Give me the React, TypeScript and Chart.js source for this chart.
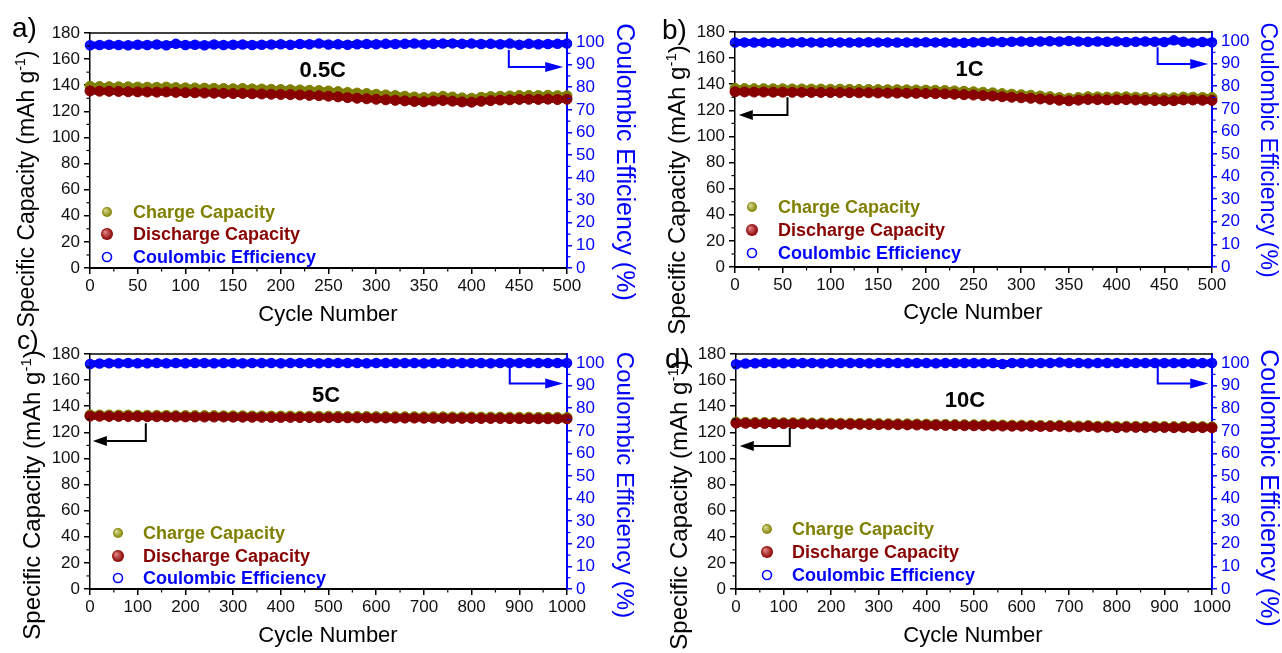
import React, { useEffect, useRef } from "react";
import { Chart, registerables } from "chart.js";

Chart.register(...registerables);

const FONT = '"Liberation Sans", Arial, Helvetica, sans-serif';
const W = 1282;
const H = 653;

// ---------------- data ----------------
const cycles500 = [0, 10, 20, 30, 40, 50, 60, 70, 80, 90, 100, 110, 120, 130, 140, 150, 160, 170, 180, 190, 200, 210, 220, 230, 240, 250, 260, 270, 280, 290, 300, 310, 320, 330, 340, 350, 360, 370, 380, 390, 400, 410, 420, 430, 440, 450, 460, 470, 480, 490, 500];
const cycles1000 = [0, 20, 40, 60, 80, 100, 120, 140, 160, 180, 200, 220, 240, 260, 280, 300, 320, 340, 360, 380, 400, 420, 440, 460, 480, 500, 520, 540, 560, 580, 600, 620, 640, 660, 680, 700, 720, 740, 760, 780, 800, 820, 840, 860, 880, 900, 920, 940, 960, 980, 1000];

// a) 0.5C
const chargeA = [139.2, 139.0, 138.9, 138.8, 138.8, 138.6, 138.5, 138.4, 138.6, 138.2, 138.0, 137.9, 137.8, 137.6, 137.5, 137.3, 137.5, 137.2, 137.1, 136.9, 136.7, 136.6, 136.4, 136.1, 135.9, 135.6, 135.1, 134.5, 134.0, 133.6, 133.1, 132.6, 132.1, 131.6, 131.0, 130.6, 131.0, 131.5, 131.0, 130.3, 130.0, 130.8, 131.3, 131.6, 131.8, 132.1, 132.2, 132.1, 132.3, 132.0, 131.9];
const dischargeA = [135.6, 135.4, 135.3, 135.2, 135.0, 134.9, 134.8, 134.7, 134.8, 134.5, 134.3, 134.2, 134.0, 133.9, 133.8, 133.6, 133.7, 133.4, 133.3, 133.1, 132.9, 132.8, 132.5, 132.2, 132.0, 131.6, 131.1, 130.5, 130.0, 129.6, 129.2, 128.8, 128.4, 128.0, 127.5, 127.3, 127.9, 128.3, 127.8, 127.2, 127.0, 127.7, 128.2, 128.6, 128.8, 129.1, 129.2, 129.1, 129.3, 129.0, 129.2];
const ceA = [98.6, 98.7, 98.8, 98.7, 98.6, 98.8, 98.7, 98.9, 98.6, 99.2, 98.7, 98.8, 98.6, 98.9, 98.7, 98.8, 98.9, 98.7, 98.8, 98.9, 99.0, 98.8, 99.1, 99.0, 99.3, 98.9, 99.0, 98.8, 99.0, 99.1, 99.0, 99.2, 99.1, 99.2, 99.3, 99.0, 99.2, 99.3, 99.4, 99.2, 99.3, 99.1, 99.2, 99.0, 99.3, 98.8, 99.2, 99.0, 99.1, 99.2, 99.3];

// b) 1C
const chargeB = [136.8, 136.7, 136.6, 136.6, 136.5, 136.5, 136.4, 136.4, 136.3, 136.3, 136.2, 136.2, 136.1, 136.0, 136.0, 135.9, 135.8, 135.8, 135.7, 135.6, 135.5, 135.4, 135.2, 134.9, 134.6, 134.2, 133.8, 133.4, 132.8, 132.4, 132.0, 131.6, 131.0, 130.5, 129.8, 129.3, 129.8, 130.4, 130.3, 130.1, 130.3, 130.4, 130.1, 129.9, 129.7, 129.5, 129.6, 130.2, 130.1, 129.9, 129.8];
const dischargeB = [134.2, 134.1, 134.0, 134.0, 133.9, 133.9, 133.8, 133.8, 133.7, 133.7, 133.6, 133.6, 133.5, 133.4, 133.4, 133.3, 133.2, 133.2, 133.1, 133.0, 132.9, 132.8, 132.6, 132.3, 132.0, 131.7, 131.3, 130.9, 130.4, 130.0, 129.6, 129.2, 128.7, 128.3, 127.7, 127.3, 127.8, 128.3, 128.2, 128.0, 128.1, 128.2, 127.9, 127.7, 127.5, 127.3, 127.4, 128.0, 127.9, 127.7, 127.6];
const ceB = [99.3, 99.4, 99.3, 99.4, 99.4, 99.3, 99.4, 99.5, 99.4, 99.3, 99.4, 99.4, 99.3, 99.4, 99.5, 99.4, 99.4, 99.3, 99.4, 99.4, 99.5, 99.4, 99.4, 99.3, 99.2, 99.5, 99.6, 99.7, 99.6, 99.7, 99.8, 99.7, 99.8, 99.9, 99.8, 100.0, 99.8, 99.7, 99.8, 99.7, 99.8, 99.6, 99.7, 99.8, 99.7, 99.6, 100.3, 99.7, 99.4, 99.6, 99.5];

// c) 5C
const chargeC = [133.4, 133.3, 133.3, 133.2, 133.2, 133.1, 133.1, 133.0, 133.0, 132.9, 132.9, 132.9, 132.8, 132.8, 132.7, 132.7, 132.7, 132.6, 132.6, 132.5, 132.5, 132.5, 132.4, 132.4, 132.3, 132.3, 132.3, 132.2, 132.2, 132.2, 132.1, 132.1, 132.0, 132.0, 132.0, 131.9, 131.9, 131.9, 131.8, 131.8, 131.8, 131.7, 131.7, 131.7, 131.6, 131.6, 131.6, 131.5, 131.5, 131.5, 131.4];
const dischargeC = [132.4, 132.3, 132.2, 132.2, 132.1, 132.1, 132.0, 132.0, 131.9, 131.9, 131.8, 131.8, 131.7, 131.7, 131.7, 131.6, 131.6, 131.5, 131.5, 131.4, 131.4, 131.4, 131.3, 131.3, 131.2, 131.2, 131.2, 131.1, 131.1, 131.1, 131.0, 131.0, 130.9, 130.9, 130.9, 130.8, 130.8, 130.8, 130.7, 130.7, 130.7, 130.6, 130.6, 130.6, 130.5, 130.5, 130.5, 130.4, 130.4, 130.4, 130.3];
const ceC = [99.6, 99.8, 99.9, 99.9, 100.0, 99.9, 99.9, 100.0, 99.9, 100.0, 99.9, 100.0, 100.0, 99.9, 100.0, 100.0, 99.9, 100.0, 100.0, 100.0, 99.9, 100.0, 100.0, 100.0, 99.9, 100.0, 100.0, 100.0, 100.0, 99.9, 100.0, 100.0, 100.0, 100.0, 100.0, 99.9, 100.0, 100.0, 100.0, 100.0, 100.0, 100.0, 99.9, 100.0, 100.0, 100.0, 100.0, 100.0, 100.0, 100.0, 100.0];

// d) 10C
const chargeD = [127.8, 127.7, 127.6, 127.6, 127.5, 127.4, 127.4, 127.3, 127.2, 127.2, 127.1, 127.0, 127.0, 126.9, 126.8, 126.7, 126.6, 126.6, 126.5, 126.4, 126.3, 126.2, 126.1, 126.0, 125.9, 125.8, 125.8, 125.7, 125.6, 125.5, 125.5, 125.4, 125.3, 125.2, 125.4, 125.1, 124.9, 125.2, 124.7, 124.9, 124.5, 124.7, 124.6, 124.5, 124.6, 124.5, 124.4, 124.5, 124.4, 124.4, 124.3];
const dischargeD = [127.0, 126.9, 126.8, 126.8, 126.7, 126.6, 126.6, 126.5, 126.4, 126.4, 126.3, 126.2, 126.2, 126.1, 126.0, 125.9, 125.8, 125.8, 125.7, 125.6, 125.5, 125.4, 125.3, 125.2, 125.1, 125.0, 125.0, 124.9, 124.8, 124.7, 124.7, 124.6, 124.5, 124.4, 124.6, 124.2, 124.0, 124.4, 123.8, 124.1, 123.6, 123.9, 123.8, 123.7, 123.8, 123.7, 123.6, 123.7, 123.6, 123.6, 123.5];
const ceD = [99.5, 99.8, 99.9, 100.0, 100.0, 99.9, 100.0, 100.0, 100.0, 99.9, 100.0, 100.0, 100.0, 100.0, 99.9, 100.0, 100.0, 100.0, 100.0, 100.0, 100.0, 99.9, 100.0, 100.0, 100.0, 100.0, 100.0, 100.0, 99.6, 100.0, 100.0, 100.0, 100.0, 100.0, 100.2, 100.0, 100.0, 99.9, 100.0, 100.0, 100.0, 100.0, 100.0, 100.0, 100.0, 100.0, 100.0, 100.0, 100.0, 100.0, 100.0];

// tick labels
const capTicks = [0, 20, 40, 60, 80, 100, 120, 140, 160, 180];
const ceTicks = [0, 10, 20, 30, 40, 50, 60, 70, 80, 90, 100];
const xTicks500 = [0, 50, 100, 150, 200, 250, 300, 350, 400, 450, 500];
const xTicks1000 = [0, 100, 200, 300, 400, 500, 600, 700, 800, 900, 1000];

const seriesNames = ["Charge Capacity", "Discharge Capacity", "Coulombic Efficiency"];
const rateLabels = ["0.5C", "1C", "5C", "10C"];
const panelLetters = ["a)", "b)", "c)", "d)"];
const yTitleMain = "Specific Capacity (mAh g";
const yTitleSup = "-1";
const rightTitle = "Coulombic Efficiency (%)";
const xTitle = "Cycle Number";

// colors
const OLIVE = "#808000";
const DARKRED = "#880000";
const BLUE = "#0000ff";
const BLACK = "#000000";

// ---------------- layout ----------------
type Arrow = { x: number; y1: number; y2: number; xEnd: number };
type Panel = {
  area: { l: number; t: number; r: number; b: number };
  cycles: number[];
  charge: number[];
  discharge: number[];
  ce: number[];
  xMax: number;
  xTicks: number[];
  rate: string;
  rateAt: [number, number];
  letter: string;
  letterAt: [number, number, number];
  yTitleAt: [number, number, number];
  rTitleAt: [number, number, number];
  xTitleAt: [number, number, number];
  legend: { mx: number; tx: number; rows: number[] };
  blackArrow?: Arrow;
  blueArrow: Arrow;
};

const panels: Panel[] = [
  {
    area: { l: 90, t: 33, r: 567, b: 268 },
    cycles: cycles500, charge: chargeA, discharge: dischargeA, ce: ceA,
    xMax: 500, xTicks: xTicks500,
    rate: rateLabels[0], rateAt: [244, 151],
    letter: panelLetters[0], letterAt: [12, 29, 28],
    yTitleAt: [26, 189, 23], rTitleAt: [624, 162, 25], xTitleAt: [328, 315, 22],
    legend: { mx: 17, tx: 43, rows: [-56, -34, -11] },
    blueArrow: { x: 439, y1: 96.5, y2: 89, xEnd: 496 },
  },
  {
    area: { l: 735, t: 32, r: 1212, b: 267 },
    cycles: cycles500, charge: chargeB, discharge: dischargeB, ce: ceB,
    xMax: 500, xTicks: xTicks500,
    rate: rateLabels[1], rateAt: [246, 151],
    letter: panelLetters[1], letterAt: [662, 31, 28],
    yTitleAt: [677, 190, 24], rTitleAt: [1267, 150, 23], xTitleAt: [973, 313, 22],
    legend: { mx: 17, tx: 43, rows: [-60, -37, -14] },
    blackArrow: { x: 55, y1: 130, y2: 116.5, xEnd: 4 },
    blueArrow: { x: 443, y1: 97.3, y2: 89.8, xEnd: 496 },
  },
  {
    area: { l: 90, t: 354, r: 567, b: 589 },
    cycles: cycles1000, charge: chargeC, discharge: dischargeC, ce: ceC,
    xMax: 1000, xTicks: xTicks1000,
    rate: rateLabels[2], rateAt: [495, 148],
    letter: panelLetters[2], letterAt: [17, 342, 26],
    yTitleAt: [32, 495, 24], rTitleAt: [624, 485, 24], xTitleAt: [328, 636, 22],
    legend: { mx: 28, tx: 53, rows: [-56, -33, -11] },
    blackArrow: { x: 117, y1: 127, y2: 113.3, xEnd: 6 },
    blueArrow: { x: 880, y1: 99, y2: 91, xEnd: 992 },
  },
  {
    area: { l: 736, t: 354, r: 1212, b: 589 },
    cycles: cycles1000, charge: chargeD, discharge: dischargeD, ce: ceD,
    xMax: 1000, xTicks: xTicks1000,
    rate: rateLabels[3], rateAt: [481, 144],
    letter: panelLetters[3], letterAt: [665, 360, 28],
    yTitleAt: [679, 505, 24], rTitleAt: [1268, 488, 25], xTitleAt: [973, 636, 22],
    legend: { mx: 31, tx: 56, rows: [-60, -37, -14] },
    blackArrow: { x: 113, y1: 123.3, y2: 109.5, xEnd: 8 },
    blueArrow: { x: 886, y1: 99, y2: 91, xEnd: 992 },
  },
];

const LEFT_W = 60;
const RIGHT_W = 60;
const X_H = 50;

// ---------------- drawing helpers ----------------
function drawArrow(ctx: CanvasRenderingContext2D, x0: number, y0: number, y1: number, xEnd: number, color: string, head: number) {
  const dir = Math.sign(xEnd - x0) || 1;
  ctx.save();
  ctx.strokeStyle = color;
  ctx.fillStyle = color;
  ctx.lineWidth = 2;
  ctx.beginPath();
  ctx.moveTo(x0, y0);
  ctx.lineTo(x0, y1);
  ctx.lineTo(xEnd - dir * head, y1);
  ctx.stroke();
  ctx.beginPath();
  ctx.moveTo(xEnd, y1);
  ctx.lineTo(xEnd - dir * head, y1 - 5);
  ctx.lineTo(xEnd - dir * head, y1 + 5);
  ctx.closePath();
  ctx.fill();
  ctx.restore();
}

function ball(ctx: CanvasRenderingContext2D, x: number, y: number, r: number, base: string, light: string) {
  const g = ctx.createRadialGradient(x - r * 0.35, y - r * 0.35, r * 0.1, x, y, r);
  g.addColorStop(0, light);
  g.addColorStop(1, base);
  ctx.fillStyle = g;
  ctx.beginPath();
  ctx.arc(x, y, r, 0, Math.PI * 2);
  ctx.fill();
}

function makeOverlay(p: Panel) {
  return {
    id: "overlay",
    afterDraw(chart: any) {
      const ctx: CanvasRenderingContext2D = chart.ctx;
      const a = chart.chartArea;
      const xs = chart.scales.x;
      const ys = chart.scales.y;
      const y2 = chart.scales.y2;
      ctx.save();

      // top frame
      ctx.strokeStyle = BLACK;
      ctx.lineWidth = 1.5;
      ctx.beginPath();
      ctx.moveTo(a.left, a.top);
      ctx.lineTo(a.right, a.top);
      ctx.stroke();

      // minor ticks
      ctx.lineWidth = 1.2;
      ctx.strokeStyle = BLACK;
      for (let i = 0; i < capTicks.length - 1; i++) {
        const py = ys.getPixelForValue((capTicks[i] + capTicks[i + 1]) / 2);
        ctx.beginPath();
        ctx.moveTo(a.left - 3.5, py);
        ctx.lineTo(a.left, py);
        ctx.stroke();
      }
      for (let i = 0; i < p.xTicks.length - 1; i++) {
        const px = xs.getPixelForValue((p.xTicks[i] + p.xTicks[i + 1]) / 2);
        ctx.beginPath();
        ctx.moveTo(px, a.bottom);
        ctx.lineTo(px, a.bottom + 3.5);
        ctx.stroke();
      }
      ctx.strokeStyle = BLUE;
      for (let i = 0; i < ceTicks.length - 1; i++) {
        const py = y2.getPixelForValue((ceTicks[i] + ceTicks[i + 1]) / 2);
        ctx.beginPath();
        ctx.moveTo(a.right, py);
        ctx.lineTo(a.right + 3.5, py);
        ctx.stroke();
      }

      // arrows
      if (p.blackArrow) {
        const b = p.blackArrow;
        drawArrow(ctx, xs.getPixelForValue(b.x), ys.getPixelForValue(b.y1), ys.getPixelForValue(b.y2), xs.getPixelForValue(b.xEnd), BLACK, 14);
      }
      {
        const b = p.blueArrow;
        drawArrow(ctx, xs.getPixelForValue(b.x), y2.getPixelForValue(b.y1), y2.getPixelForValue(b.y2), xs.getPixelForValue(b.xEnd), BLUE, 18);
      }

      // rate label
      ctx.fillStyle = BLACK;
      ctx.font = `bold 22px ${FONT}`;
      ctx.textAlign = "center";
      ctx.textBaseline = "middle";
      ctx.fillText(p.rate, xs.getPixelForValue(p.rateAt[0]), ys.getPixelForValue(p.rateAt[1]));

      // legend
      const lg = p.legend;
      const colors = [OLIVE, DARKRED, BLUE];
      ctx.font = `bold 18px ${FONT}`;
      ctx.textAlign = "left";
      ctx.textBaseline = "middle";
      for (let i = 0; i < 3; i++) {
        const yy = a.bottom + lg.rows[i];
        const mx = a.left + lg.mx;
        if (i === 0) ball(ctx, mx, yy, 5, OLIVE, "#d8d890");
        else if (i === 1) ball(ctx, mx, yy, 6, DARKRED, "#e08080");
        else {
          ctx.strokeStyle = BLUE;
          ctx.lineWidth = 1.6;
          ctx.beginPath();
          ctx.arc(mx, yy, 4.5, 0, Math.PI * 2);
          ctx.stroke();
        }
        ctx.fillStyle = colors[i];
        ctx.fillText(seriesNames[i], a.left + lg.tx, yy + 1);
      }

      // panel letter
      ctx.fillStyle = BLACK;
      ctx.font = `${p.letterAt[2]}px ${FONT}`;
      ctx.textAlign = "left";
      ctx.textBaseline = "middle";
      ctx.fillText(p.letter, p.letterAt[0], p.letterAt[1]);

      // x title
      ctx.font = `${p.xTitleAt[2]}px ${FONT}`;
      ctx.textAlign = "center";
      ctx.fillText(xTitle, p.xTitleAt[0], p.xTitleAt[1]);

      // left title with superscript
      {
        const [cx, cy, size] = p.yTitleAt;
        const mainF = `${size}px ${FONT}`;
        const supF = `${Math.round(size * 0.62)}px ${FONT}`;
        ctx.font = mainF;
        const w1 = ctx.measureText(yTitleMain).width;
        const w3 = ctx.measureText(")").width;
        ctx.font = supF;
        const w2 = ctx.measureText(yTitleSup).width;
        const total = w1 + w2 + w3;
        ctx.save();
        ctx.translate(cx, cy);
        ctx.rotate(-Math.PI / 2);
        ctx.textAlign = "left";
        ctx.textBaseline = "alphabetic";
        ctx.fillStyle = BLACK;
        const base = size * 0.35;
        let x = -total / 2;
        ctx.font = mainF;
        ctx.fillText(yTitleMain, x, base);
        x += w1;
        ctx.font = supF;
        ctx.fillText(yTitleSup, x, base - size * 0.4);
        x += w2;
        ctx.font = mainF;
        ctx.fillText(")", x, base);
        ctx.restore();
      }

      // right title
      {
        const [cx, cy, size] = p.rTitleAt;
        ctx.save();
        ctx.translate(cx, cy);
        ctx.rotate(Math.PI / 2);
        ctx.font = `${size}px ${FONT}`;
        ctx.fillStyle = BLUE;
        ctx.textAlign = "center";
        ctx.textBaseline = "middle";
        ctx.fillText(rightTitle, 0, 0);
        ctx.restore();
      }

      ctx.restore();
    },
  };
}

const plainNumber = (v: any) => String(v);

function PanelChart({ p }: { p: Panel }) {
  const ref = useRef<HTMLCanvasElement | null>(null);
  useEffect(() => {
    const canvas = ref.current;
    if (!canvas) return;
    const pts = (ys: number[]) => p.cycles.map((c, i) => ({ x: c, y: ys[i] }));
    const series = (label: string, ys: number[], axis: string, color: string, fill: string, r: number, bw: number, lw: number) => ({
      label,
      data: pts(ys),
      yAxisID: axis,
      showLine: true,
      borderWidth: lw,
      borderColor: color,
      backgroundColor: fill,
      pointRadius: r,
      pointBorderWidth: bw,
      pointBackgroundColor: fill,
      pointBorderColor: color,
      clip: false as any,
    });
    const chart = new Chart(canvas, {
      type: "scatter",
      data: {
        datasets: [
          series(seriesNames[1], p.discharge, "y", DARKRED, DARKRED, 5, 1, 7),
          series(seriesNames[0], p.charge, "y", OLIVE, OLIVE, 5, 1, 7),
          series(seriesNames[2], p.ce, "y2", BLUE, "rgba(0,0,255,0.9)", 4.5, 1.5, 7),
        ],
      },
      options: {
        responsive: false,
        animation: false,
        events: [],
        layout: {
          padding: {
            left: p.area.l - LEFT_W,
            right: W - p.area.r - RIGHT_W,
            top: p.area.t,
            bottom: H - p.area.b - X_H,
          },
        },
        plugins: { legend: { display: false }, tooltip: { enabled: false } },
        scales: {
          x: {
            type: "linear",
            position: "bottom",
            min: 0,
            max: p.xMax,
            afterBuildTicks: (s: any) => {
              s.ticks = p.xTicks.map((v) => ({ value: v }));
            },
            afterFit: (s: any) => {
              s.height = X_H;
            },
            ticks: { font: { family: FONT, size: 17 }, color: "#111", padding: 2, maxRotation: 0, autoSkip: false, callback: plainNumber },
            grid: { drawOnChartArea: false, drawTicks: true, tickLength: 6, color: BLACK, lineWidth: 1.5 },
            border: { color: BLACK, width: 2 },
          },
          y: {
            type: "linear",
            position: "left",
            min: 0,
            max: 180,
            afterBuildTicks: (s: any) => {
              s.ticks = capTicks.map((v) => ({ value: v }));
            },
            afterFit: (s: any) => {
              s.width = LEFT_W;
            },
            ticks: { font: { family: FONT, size: 17 }, color: "#111", padding: 4, autoSkip: false, callback: plainNumber },
            grid: { drawOnChartArea: false, drawTicks: true, tickLength: 6, color: BLACK, lineWidth: 1.5 },
            border: { color: BLACK, width: 1.5 },
          },
          y2: {
            type: "linear",
            position: "right",
            min: 0,
            max: 104,
            afterBuildTicks: (s: any) => {
              s.ticks = ceTicks.map((v) => ({ value: v }));
            },
            afterFit: (s: any) => {
              s.width = RIGHT_W;
            },
            ticks: { font: { family: FONT, size: 17 }, color: BLUE, padding: 4, autoSkip: false, callback: plainNumber },
            grid: { drawOnChartArea: false, drawTicks: true, tickLength: 5, color: BLUE, lineWidth: 1.5 },
            border: { color: BLUE, width: 2 },
          },
        },
      } as any,
      plugins: [makeOverlay(p)],
    });
    return () => chart.destroy();
  }, [p]);
  return (
    <canvas
      ref={ref}
      width={W}
      height={H}
      style={{ position: "absolute", left: 0, top: 0, width: W, height: H }}
    />
  );
}

export default function App() {
  return (
    <div style={{ position: "absolute", left: 0, top: 0, width: W, height: H, background: "#ffffff", overflow: "hidden" }}>
      {panels.map((p, i) => (
        <PanelChart key={i} p={p} />
      ))}
    </div>
  );
}
